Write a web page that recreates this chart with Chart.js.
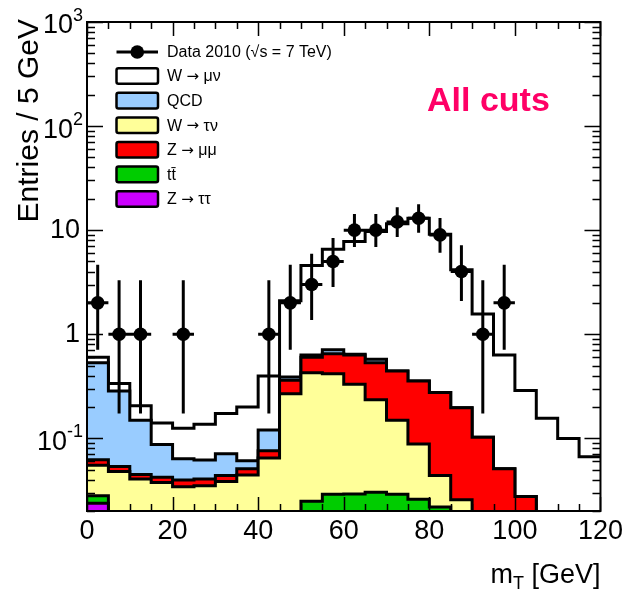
<!DOCTYPE html>
<html lang="en">
<head>
<meta charset="UTF-8">
<title>Transverse mass, all cuts</title>
<script src="https://cdn.jsdelivr.net/npm/chart.js@4.4.1/dist/chart.umd.min.js"></script>
<style>
  html, body { margin: 0; padding: 0; background: #fff; }
  #wrap { position: relative; width: 627px; height: 591px; }
</style>
</head>
<body>
<div id="wrap"><canvas id="mtChart" width="627" height="591"></canvas></div>
<script>
// 5 GeV bins, low edges
const binLow = [0, 5, 10, 15, 20, 25, 30, 35, 40, 45, 50, 55, 60, 65, 70, 75, 80, 85, 90, 95, 100, 105, 110, 115];
const binWidth = 5;

// expected entries per bin for each process
const ztautau = [0.0238, 0, 0, 0, 0, 0, 0, 0, 0, 0, 0, 0, 0, 0, 0, 0, 0, 0, 0, 0, 0, 0, 0, 0];
const ttbar   = [0.0042, 0, 0, 0, 0, 0, 0, 0, 0, 0, 0.0248, 0.029, 0.0292, 0.0303, 0.029, 0.026, 0.0218, 0, 0, 0, 0, 0, 0, 0];
const wtaunu  = [0.027, 0.048, 0.0407, 0.0376, 0.0342, 0.035, 0.0384, 0.0443, 0.0646, 0.268, 0.401, 0.388, 0.301, 0.204, 0.120, 0.062, 0.022, 0.0256, 0.01, 0, 0, 0, 0, 0];
const zmumu   = [0.0072, 0.0056, 0.0041, 0.0046, 0.0055, 0.0057, 0.0054, 0.0065, 0.0114, 0.092, 0.174, 0.231, 0.30, 0.297, 0.294, 0.267, 0.231, 0.171, 0.092, 0.0508, 0.0275, 0, 0, 0];
const qcd     = [0.468, 0.231, 0.104, 0.045, 0.024, 0.021, 0.027, 0.010, 0.044, 0.027, 0.03, 0.06, 0.01, 0.042, 0, 0, 0, 0, 0, 0, 0, 0, 0, 0];
const wmunu   = [0.07, 0.052, 0.056, 0.053, 0.061, 0.075, 0.102, 0.139, 0.277, 1.71, 3.93, 5.83, 7.13, 9.13, 11.06, 12.65, 8.85, 3.96, 1.46, 0.58, 0.26, 0.156, 0.0996, 0.0665];

// stacking order, bottom to top
const stackSeries = [ztautau, ttbar, wtaunu, zmumu, qcd, wmunu];
const stackNames  = ['Z → ττ', 'tt\u0304', 'W → τν', 'Z → μμ', 'QCD', 'W → μν'];
const stackColors = ['#cc00ff', '#00cc00', '#ffff99', '#ff0000', '#99ccff', '#ffffff'];
// legend order (indices into the stack)
const legendOrder = [5, 4, 2, 3, 1, 0];

// data 2010: bin centre, entries, asymmetric poisson interval
const dataX    = [2.5, 7.5, 12.5, 22.5, 42.5, 47.5, 52.5, 57.5, 62.5, 67.5, 72.5, 77.5, 82.5, 87.5, 92.5, 97.5];
const dataN    = [2, 1, 1, 1, 1, 2, 3, 5, 10, 10, 12, 13, 9, 4, 1, 2];
const dataLow  = [0.708, 0.173, 0.173, 0.173, 0.173, 0.708, 1.37, 2.84, 6.89, 6.89, 8.59, 9.44, 6.06, 2.09, 0.173, 0.708];
const dataHigh = [4.64, 3.30, 3.30, 3.30, 3.30, 4.64, 5.92, 8.38, 14.27, 14.27, 16.56, 17.70, 13.11, 7.16, 3.30, 4.64];
const dataLabel = 'Data 2010 (√s = 7 TeV)';

const xTicks = [0, 20, 40, 60, 80, 100, 120];
const yTickValues = [0.1, 1, 10, 100, 1000];
const yTickText = ['10^-1', '1', '10', '10^2', '10^3'];

const FONT = '"Liberation Sans", Arial, Helvetica, sans-serif';
const ARROW_FONT = '"DejaVu Sans", sans-serif';
const Y_MIN = 0.02, Y_MAX = 1000;
// empty bins sit below the axis so the log scale still gets a point
const FLOOR = 1e-4;

// cumulative sums for the stacked histogram
const cumulative = [];
stackSeries.forEach((s, k) => {
  cumulative.push(s.map((v, i) => v + (k > 0 ? cumulative[k - 1][i] : 0)));
});

function stepPoints(values) {
  const pts = binLow.map((x, i) => ({ x, y: Math.max(values[i], FLOOR) }));
  pts.push({ x: binLow[binLow.length - 1] + binWidth, y: Math.max(values[values.length - 1], FLOOR) });
  return pts;
}

const datasets = [{
  label: dataLabel,
  data: dataX.map((x, i) => ({ x, y: dataN[i] })),
  showLine: false,
  pointRadius: 6.8,
  pointBackgroundColor: '#000',
  pointBorderColor: '#000',
  pointBorderWidth: 0,
  borderColor: '#000'
}];
cumulative.forEach((c, k) => {
  datasets.push({
    label: stackNames[k],
    data: stepPoints(c),
    stepped: true,
    fill: 'start',
    backgroundColor: stackColors[k],
    borderColor: '#000',
    borderWidth: 3,
    borderJoinStyle: 'miter',
    pointRadius: 0
  });
});

// frame with inward ROOT style ticks, plus data error bars
const framePlugin = {
  id: 'frame',
  afterDatasetsDraw(chart) {
    const { ctx, chartArea: a, scales: { x, y } } = chart;
    ctx.save();

    // error bars
    ctx.beginPath();
    ctx.rect(a.left, a.top, a.right - a.left, a.bottom - a.top);
    ctx.clip();
    ctx.strokeStyle = '#000';
    ctx.lineWidth = 3;
    ctx.beginPath();
    dataX.forEach((cx, i) => {
      const px = x.getPixelForValue(cx);
      const py = y.getPixelForValue(dataN[i]);
      ctx.moveTo(px, y.getPixelForValue(dataLow[i]));
      ctx.lineTo(px, y.getPixelForValue(dataHigh[i]));
      ctx.moveTo(x.getPixelForValue(cx - binWidth / 2), py);
      ctx.lineTo(x.getPixelForValue(cx + binWidth / 2), py);
    });
    ctx.stroke();
    ctx.restore();

    ctx.save();
    ctx.strokeStyle = '#000';
    ctx.lineWidth = 1.5;
    ctx.beginPath();
    for (let v = 0; v <= 120; v += binWidth) {
      const px = Math.round(x.getPixelForValue(v)) + 0.5;
      const len = v % 20 === 0 ? 14 : 7;
      ctx.moveTo(px, a.bottom); ctx.lineTo(px, a.bottom - len);
      ctx.moveTo(px, a.top); ctx.lineTo(px, a.top + len);
    }
    for (let e = -2; e <= 3; e++) {
      for (let m = 1; m <= 9; m++) {
        const v = m * Math.pow(10, e);
        if (v < y.min * 0.999 || v > y.max * 1.001) continue;
        const py = Math.round(y.getPixelForValue(v)) + 0.5;
        const len = m === 1 ? 16 : 8;
        ctx.moveTo(a.left, py); ctx.lineTo(a.left + len, py);
        ctx.moveTo(a.right, py); ctx.lineTo(a.right - len, py);
      }
    }
    ctx.stroke();
    ctx.lineWidth = 2;
    ctx.strokeRect(a.left, a.top, a.right - a.left, a.bottom - a.top);
    ctx.restore();
  }
};

// legend text, with the arrow taken from a font that draws it full size
function drawLegendText(ctx, text, x, y) {
  const parts = text.split('→');
  parts.forEach((p, i) => {
    ctx.font = `16px ${FONT}`;
    ctx.fillText(p, x, y);
    x += ctx.measureText(p).width;
    if (i < parts.length - 1) {
      ctx.font = `15px ${ARROW_FONT}`;
      ctx.fillText('→', x, y);
      x += ctx.measureText('→').width;
    }
  });
}

// y tick labels with exponents, axis titles, legend and the cut label
const labelsPlugin = {
  id: 'labels',
  afterDraw(chart) {
    const { ctx, chartArea: a, scales: { y } } = chart;
    ctx.save();
    ctx.fillStyle = '#000';

    yTickText.forEach((t, i) => {
      const py = y.getPixelForValue(yTickValues[i]);
      const [base, exp] = t.split('^');
      if (!exp) {
        ctx.font = `27px ${FONT}`;
        ctx.textAlign = 'right';
        ctx.textBaseline = 'middle';
        ctx.fillText(base, 80, py);
        return;
      }
      ctx.font = `18px ${FONT}`;
      const we = ctx.measureText(exp).width;
      ctx.textAlign = 'right';
      ctx.textBaseline = 'alphabetic';
      ctx.fillText(exp, 83, py - 1);
      ctx.font = `27px ${FONT}`;
      ctx.textBaseline = 'middle';
      ctx.fillText(base, 83 - we, py + 4);
    });

    // y title
    ctx.save();
    ctx.translate(38, a.top - 3);
    ctx.rotate(-Math.PI / 2);
    ctx.font = `30px ${FONT}`;
    ctx.textAlign = 'right';
    ctx.textBaseline = 'alphabetic';
    ctx.fillText('Entries / 5 GeV', 0, 0);
    ctx.restore();

    // x title: m_T [GeV]
    const ty = 583;
    ctx.textAlign = 'left';
    ctx.textBaseline = 'alphabetic';
    ctx.font = `27px ${FONT}`;
    const wm = ctx.measureText('m').width;
    const wrest = ctx.measureText(' [GeV]').width;
    ctx.font = `18px ${FONT}`;
    const wt = ctx.measureText('T').width;
    const tx = a.right - (wm + wt + wrest);
    ctx.font = `27px ${FONT}`;
    ctx.fillText('m', tx, ty);
    ctx.font = `18px ${FONT}`;
    ctx.fillText('T', tx + wm, ty + 6);
    ctx.font = `27px ${FONT}`;
    ctx.fillText(' [GeV]', tx + wm + wt, ty);

    // legend
    const lx = 116.5, lw = 41.5, tx0 = 167;
    ctx.textBaseline = 'middle';
    ctx.lineWidth = 3;
    ctx.beginPath();
    ctx.moveTo(lx, 52); ctx.lineTo(lx + lw, 52);
    ctx.stroke();
    ctx.beginPath();
    ctx.arc(lx + lw / 2, 52, 6.8, 0, Math.PI * 2);
    ctx.fill();
    drawLegendText(ctx, dataLabel, tx0, 53);

    legendOrder.forEach((k, row) => {
      const cy = 76 + row * 24.6;
      ctx.fillStyle = stackColors[k];
      ctx.lineWidth = 2.5;
      ctx.beginPath();
      ctx.roundRect(lx, cy - 7.8, lw, 15.6, 2);
      ctx.fill();
      ctx.stroke();
      ctx.fillStyle = '#000';
      drawLegendText(ctx, stackNames[k], tx0, cy + 1);
    });

    ctx.font = `bold 34px ${FONT}`;
    ctx.fillStyle = '#ff0066';
    ctx.textBaseline = 'alphabetic';
    ctx.fillText('All cuts', 427, 111);
    ctx.restore();
  }
};

new Chart(document.getElementById('mtChart'), {
  type: 'line',
  data: { datasets },
  options: {
    responsive: false,
    animation: false,
    events: [],
    devicePixelRatio: 1,
    layout: { padding: { left: 0, right: 25, top: 22, bottom: 0 } },
    plugins: { legend: { display: false }, tooltip: { enabled: false } },
    scales: {
      x: {
        type: 'linear',
        min: 0,
        max: 120,
        afterFit: s => { s.height = 80; },
        afterBuildTicks: s => { s.ticks = xTicks.map(v => ({ value: v })); },
        grid: { display: false, drawTicks: false },
        border: { display: false },
        ticks: { color: '#000', font: { family: FONT, size: 27 }, padding: 4, maxRotation: 0, autoSkip: false }
      },
      y: {
        type: 'logarithmic',
        min: Y_MIN,
        max: Y_MAX,
        afterFit: s => { s.width = 87; },
        grid: { display: false, drawTicks: false },
        border: { display: false },
        ticks: { display: false }
      }
    }
  },
  plugins: [framePlugin, labelsPlugin]
});
</script>
</body>
</html>
